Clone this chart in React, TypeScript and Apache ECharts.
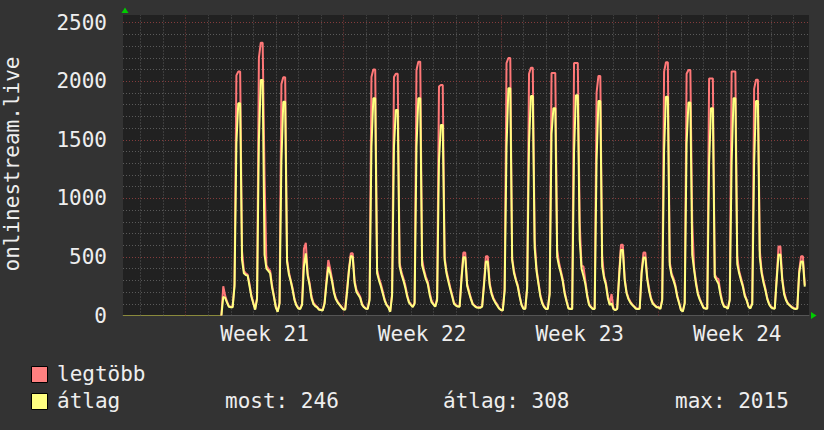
import React, { useEffect, useRef } from "react";
import * as echarts from "echarts";

// Time is measured in hours from Monday 00:00 of week 21.
const START_HOUR = 38;
const STEP_HOURS = 2;

// "legtöbb" (maximum) – one line per day, 2-hour steps
const legtobb = [
  0, 250, 170, 120, 80,
  75, 75, 270, 2050, 2082, 2082, 550, 380, 360, 350, 270, 170,
  110, 55, 150, 2200, 2329, 2329, 1200, 430, 400, 380, 260, 170,
  75, 35, 110, 1975, 2033, 2033, 480, 370, 300, 230, 140, 90,
  65, 60, 100, 570, 620, 360, 280, 170, 110, 90, 75, 55,
  50, 45, 110, 300, 474, 400, 310, 210, 150, 120, 95, 75,
  55, 55, 230, 400, 531, 531, 300, 220, 190, 160, 100, 75,
  62, 60, 150, 2035, 2100, 2100, 390, 320, 270, 210, 140, 95,
  75, 35, 190, 2035, 2064, 2064, 450, 370, 320, 260, 180, 120,
  95, 75, 110, 2095, 2167, 2167, 480, 390, 330, 290, 200, 130,
  100, 78, 150, 1955, 1968, 1968, 500, 380, 310, 240, 180, 110,
  90, 80, 80, 330, 537, 537, 270, 210, 150, 100, 85, 72,
  70, 70, 80, 280, 505, 505, 280, 200, 150, 120, 95, 65,
  50, 45, 230, 2155, 2198, 2198, 490, 380, 310, 260, 170, 95,
  62, 60, 250, 2064, 2115, 2115, 650, 400, 290, 180, 115, 80,
  60, 58, 200, 2070, 2070, 2070, 560, 450, 380, 310, 200, 130,
  65, 58, 60, 2155, 2155, 2155, 800, 420, 420, 300, 180, 100,
  75, 60, 60, 1900, 2045, 2045, 500, 340, 280, 170, 100, 183,
  60, 48, 60, 350, 604, 604, 320, 200, 150, 120, 95, 80,
  62, 58, 62, 380, 537, 537, 330, 230, 150, 110, 90, 75,
  72, 60, 140, 2082, 2162, 2162, 460, 360, 320, 260, 170, 110,
  50, 38, 110, 2064, 2095, 2095, 800, 410, 290, 195, 145, 105,
  70, 62, 62, 2023, 2023, 2023, 350, 320, 310, 200, 120, 80,
  75, 62, 140, 2082, 2082, 2082, 500, 380, 320, 260, 180, 135,
  80, 65, 110, 1934, 2013, 2013, 560, 380, 300, 230, 150, 100,
  75, 65, 62, 320, 590, 590, 320, 200, 140, 105, 90, 75,
  65, 60, 62, 380, 505, 505, 260,
];

// "átlag" (average) – same time steps
const atlag = [
  0, 160, 150, 110, 75,
  70, 70, 250, 1470, 1812, 1812, 474, 360, 346, 340, 250, 160,
  104, 50, 140, 1500, 2011, 2011, 520, 400, 380, 360, 240, 160,
  70, 32, 100, 1320, 1825, 1825, 460, 350, 290, 215, 130, 85,
  60, 55, 90, 420, 531, 340, 260, 150, 100, 80, 70, 50,
  47, 42, 100, 270, 416, 360, 290, 195, 140, 110, 90, 70,
  52, 50, 200, 380, 510, 500, 280, 200, 175, 150, 90, 70,
  58, 55, 130, 1440, 1855, 1855, 360, 300, 250, 190, 130, 90,
  70, 32, 170, 1440, 1755, 1755, 420, 350, 300, 240, 165, 110,
  90, 72, 100, 1440, 1855, 1855, 430, 370, 310, 270, 180, 115,
  95, 75, 130, 1320, 1627, 1627, 474, 360, 290, 225, 165, 100,
  85, 76, 75, 310, 497, 497, 255, 195, 140, 95, 80, 68,
  67, 66, 75, 260, 460, 460, 260, 185, 140, 110, 85, 60,
  47, 42, 210, 1440, 1940, 1940, 474, 360, 300, 246, 160, 90,
  58, 56, 230, 1470, 1873, 1873, 580, 380, 270, 165, 105, 72,
  56, 55, 180, 1550, 1770, 1770, 500, 420, 360, 290, 185, 120,
  60, 55, 56, 1400, 1880, 1880, 650, 400, 340, 270, 165, 90,
  70, 56, 56, 1320, 1831, 1831, 420, 320, 260, 150, 90, 104,
  55, 45, 56, 320, 560, 560, 300, 190, 140, 110, 90, 75,
  58, 55, 58, 360, 495, 495, 310, 210, 140, 100, 85, 70,
  68, 56, 130, 1410, 1868, 1868, 430, 340, 300, 246, 160, 104,
  45, 35, 104, 1470, 1818, 1818, 520, 390, 270, 180, 135, 100,
  66, 58, 58, 1300, 1770, 1770, 330, 300, 270, 180, 110, 75,
  70, 58, 130, 1300, 1855, 1855, 440, 360, 300, 246, 165, 130,
  75, 60, 100, 1300, 1831, 1831, 500, 360, 280, 215, 140, 95,
  70, 60, 58, 300, 520, 520, 300, 180, 130, 100, 85, 70,
  60, 56, 58, 360, 460, 460, 246,
];

const weekCenters = [84, 252, 420, 588];
const weekLabels = ["Week 21", "Week 22", "Week 23", "Week 24"];
const dayLines = [-48, -24, 0, 24, 48, 72, 96, 120, 144, 168, 192, 216, 240, 264, 288, 312, 336, 360, 384, 408, 432, 456, 480, 504, 528, 552, 576, 600, 624, 648];
const weekLines = [0, 168, 336, 504];
const minorValues = [100, 200, 300, 400, 600, 700, 800, 900, 1100, 1200, 1300, 1400, 1600, 1700, 1800, 1900, 2100, 2200, 2300, 2400];
const majorValues = [500, 1000, 1500, 2000, 2500];

const seriesNames = ["legtöbb", "átlag"];
const seriesColors = ["#ff8080", "#ffff80"];
const statLabels = ["most: 246", "átlag: 308", "max: 2015"];

const X_MIN = -66.9;
const X_MAX = 664.5;
const Y_MAX = 2565;
const FONT = "'DejaVu Sans Mono', monospace";
const TEXT = "#eeeeee";

const toPairs = (vals: number[]) => vals.map((v, i) => [START_HOUR + i * STEP_HOURS, v]);

export default function App() {
  const ref = useRef<HTMLDivElement>(null);
  useEffect(() => {
    if (!ref.current) return;
    const chart = echarts.init(ref.current, null, { renderer: "svg" });
    const gray = { color: "#5a5a5a", width: 1, type: [1, 2] as any };
    const red = { color: "#843c3c", width: 1, type: [1, 2] as any };
    const gridMarks = [
      ...dayLines.filter((d) => !weekLines.includes(d)).map((d) => ({ xAxis: d, lineStyle: gray })),
      ...weekLines.map((d) => ({ xAxis: d, lineStyle: red })),
      ...minorValues.map((v) => ({ yAxis: v, lineStyle: gray })),
      ...majorValues.map((v) => ({ yAxis: v, lineStyle: red })),
    ];
    chart.setOption({
      animation: false,
      backgroundColor: "#333333",
      grid: {
        left: 123,
        right: 15,
        top: 15,
        bottom: 114.5,
        show: true,
        backgroundColor: "#212121",
        borderWidth: 0,
      },
      xAxis: {
        type: "value",
        min: X_MIN,
        max: X_MAX,
        splitLine: { show: false },
        axisTick: { show: false },
        axisLine: { show: true, onZero: false, lineStyle: { color: "#555555", width: 1 } },
        axisLabel: {
          show: true,
          customValues: weekCenters,
          formatter: (v: number) => {
            const i = weekCenters.findIndex((c) => Math.abs(c - v) < 0.5);
            return i >= 0 ? weekLabels[i] : "";
          },
          color: TEXT,
          fontFamily: FONT,
          fontSize: 21,
          margin: 8,
        },
      },
      yAxis: {
        type: "value",
        min: 0,
        max: Y_MAX,
        interval: 500,
        splitLine: { show: false },
        axisTick: { show: false },
        axisLine: { show: false },
        axisLabel: {
          showMaxLabel: false,
          formatter: (v: number) => (v % 500 === 0 ? String(v) : ""),
          color: TEXT,
          fontFamily: FONT,
          fontSize: 21,
          margin: 16,
        },
      },
      series: [
        {
          name: "zero",
          type: "line",
          data: [[X_MIN, 0], [START_HOUR, 0]],
          showSymbol: false,
          lineStyle: { color: "#8a8a3c", width: 1 },
          z: 3,
          silent: true,
          markLine: {
            silent: true,
            symbol: ["none", "none"],
            label: { show: false },
            emphasis: { disabled: true },
            animation: false,
            data: gridMarks,
          },
        },
        {
          name: seriesNames[0],
          type: "line",
          data: toPairs(legtobb),
          showSymbol: false,
          lineStyle: { color: "#ff7878", width: 2 },
          z: 10,
        },
        {
          name: seriesNames[1],
          type: "line",
          data: toPairs(atlag),
          showSymbol: false,
          lineStyle: { color: seriesColors[1], width: 2 },
          z: 11,
        },
      ],
      graphic: [
        {
          type: "text",
          x: 11.5,
          y: 164,
          rotation: Math.PI / 2,
          style: { text: "onlinestream.live", fill: TEXT, font: `21px ${FONT}`, align: "center", verticalAlign: "middle" },
        },
        { type: "polygon", shape: { points: [[125, 7.5], [121.5, 13], [128.5, 13]] }, style: { fill: "#00cc00" } },
        { type: "polygon", shape: { points: [[811, 312], [811, 319], [816.5, 315.5]] }, style: { fill: "#00cc00" } },
        { type: "rect", shape: { x: 31.5, y: 366.5, width: 16, height: 16 }, style: { fill: seriesColors[0], stroke: "#000", lineWidth: 1 } },
        { type: "rect", shape: { x: 31.5, y: 393.5, width: 16, height: 16 }, style: { fill: seriesColors[1], stroke: "#000", lineWidth: 1 } },
        { type: "text", x: 57, y: 374, style: { text: seriesNames[0], fill: TEXT, font: `21px ${FONT}`, verticalAlign: "middle" } },
        { type: "text", x: 57, y: 401, style: { text: seriesNames[1], fill: TEXT, font: `21px ${FONT}`, verticalAlign: "middle" } },
        { type: "text", x: 225, y: 401, style: { text: statLabels[0], fill: TEXT, font: `21px ${FONT}`, verticalAlign: "middle" } },
        { type: "text", x: 443, y: 401, style: { text: statLabels[1], fill: TEXT, font: `21px ${FONT}`, verticalAlign: "middle" } },
        { type: "text", x: 675, y: 401, style: { text: statLabels[2], fill: TEXT, font: `21px ${FONT}`, verticalAlign: "middle" } },
      ],
    });
    return () => chart.dispose();
  }, []);
  return <div ref={ref} style={{ position: "fixed", left: 0, top: 0, width: 824, height: 430 }} />;
}
